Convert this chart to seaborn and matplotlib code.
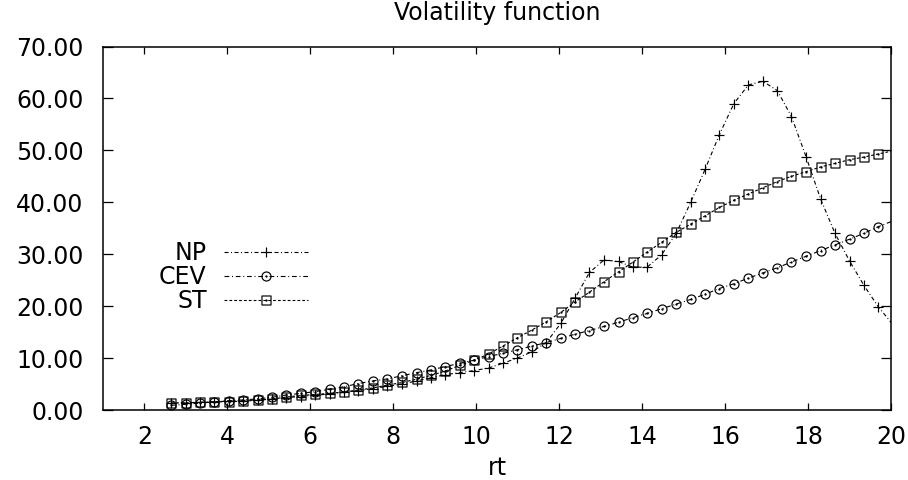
import matplotlib
matplotlib.use("Agg")
import matplotlib.pyplot as plt
from matplotlib.path import Path
import seaborn as sns

# rt grid (last point lies just past the axis, only its line segment shows)
rt = [2.64, 2.99, 3.34, 3.68, 4.03, 4.38, 4.73, 5.08, 5.42, 5.77,
      6.12, 6.47, 6.82, 7.16, 7.51, 7.86, 8.21, 8.56, 8.90, 9.25,
      9.60, 9.95, 10.30, 10.64, 10.99, 11.34, 11.69, 12.04, 12.38, 12.73,
      13.08, 13.43, 13.78, 14.12, 14.47, 14.82, 15.17, 15.52, 15.86, 16.21,
      16.56, 16.91, 17.26, 17.60, 17.95, 18.30, 18.65, 19.00, 19.34, 19.69,
      20.04]

np_vol = [1.3, 1.4, 1.5, 1.6, 1.7, 1.8, 1.95, 2.1, 2.4, 2.6,
          2.85, 3.1, 3.4, 3.75, 4.1, 4.6, 5.0, 5.6, 6.2, 6.8,
          7.2, 7.6, 8.1, 9.0, 10.0, 11.2, 13.0, 16.7, 21.5, 26.5,
          28.9, 28.6, 27.5, 27.5, 29.9, 34.0, 40.0, 46.4, 53.0, 59.0,
          62.6, 63.3, 61.5, 56.5, 48.8, 40.7, 34.0, 28.7, 24.1, 19.9,
          16.5]

cev_vol = [0.9, 1.1, 1.35, 1.55, 1.8, 1.95, 2.15, 2.45, 2.9, 3.2,
           3.55, 4.0, 4.5, 5.1, 5.6, 6.0, 6.6, 7.2, 7.7, 8.35,
           9.0, 9.6, 10.3, 10.9, 11.6, 12.3, 13.0, 13.8, 14.6, 15.3,
           16.1, 16.9, 17.8, 18.6, 19.5, 20.4, 21.3, 22.3, 23.4, 24.3,
           25.4, 26.4, 27.4, 28.5, 29.6, 30.7, 31.8, 32.9, 34.0, 35.3,
           36.4]

st_vol = [1.35, 1.4, 1.45, 1.55, 1.6, 1.7, 1.9, 2.1, 2.5, 2.8,
          3.0, 3.2, 3.5, 3.85, 4.25, 4.8, 5.3, 5.95, 6.65, 7.5,
          8.6, 9.6, 10.8, 12.3, 13.9, 15.4, 17.0, 18.8, 20.8, 22.7,
          24.7, 26.6, 28.5, 30.4, 32.3, 34.2, 35.8, 37.4, 39.0, 40.4,
          41.6, 42.8, 44.0, 45.0, 45.9, 46.8, 47.5, 48.2, 48.7, 49.3,
          49.9]

labels = ["NP", "CEV", "ST"]
x_ticks = [2, 4, 6, 8, 10, 12, 14, 16, 18, 20]
y_ticks = [0, 10, 20, 30, 40, 50, 60, 70]

sns.set_style("ticks")
plt.rcParams["font.family"] = ["DejaVu Sans"]
plt.rcParams["lines.scale_dashes"] = False
plt.rcParams["text.color"] = "black"
plt.rcParams["axes.labelcolor"] = "black"
plt.rcParams["xtick.color"] = "black"
plt.rcParams["ytick.color"] = "black"
plt.rcParams["axes.edgecolor"] = "black"

# gnuplot-like markers: open shape with a small dot in the middle
dot = Path.circle((0, 0), 0.12)
circ_dot = Path.make_compound_path(Path.circle((0, 0), 1.0), dot)
sq_dot = Path.make_compound_path(
    Path([(-1, -1), (1, -1), (1, 1), (-1, 1), (-1, -1)], closed=True), dot)

fig = plt.figure(figsize=(9.08, 4.8), dpi=100)
ax = fig.add_axes([0.1134, 0.1458, 0.8679, 0.7573])

fs = 17
common = dict(color="black", lw=0.8, markevery=slice(0, 50),
              markeredgecolor="black", markeredgewidth=0.85, ax=ax)

sns.lineplot(x=rt, y=np_vol, label=labels[0], linestyle=(0, (2.9, 1.8, 0.7, 1.8)),
             marker="+", markersize=7, **common)
sns.lineplot(x=rt, y=cev_vol, label=labels[1], linestyle=(0, (3.4, 2.0, 0.7, 2.0)),
             marker=circ_dot, markersize=6.5, mfc="none", **common)
sns.lineplot(x=rt, y=st_vol, label=labels[2], linestyle=(0, (2.0, 1.5)),
             marker=sq_dot, markersize=6.5, mfc="none", **common)

ax.set_xlim(1, 20)
ax.set_ylim(0, 70)
ax.set_xticks(x_ticks)
ax.set_yticks(y_ticks)
ax.set_yticklabels([f"{v:.2f}" for v in y_ticks])
for s in ax.spines.values():
    s.set_linewidth(1.1)
    s.set_visible(True)
ax.tick_params(direction="in", top=True, right=True, labelsize=fs, width=0.9)
ax.tick_params(axis="x", length=5, pad=11)
ax.tick_params(axis="y", length=7, pad=14)

ax.set_xlabel("rt", fontsize=fs, labelpad=5)
ax.set_ylabel("")
fig.text(0.5474, 1 - 13 / 480, "Volatility function", fontsize=fs,
         ha="center", va="center")

ax.legend(loc="upper right", bbox_to_anchor=(320 / 908, 1 - 229 / 480),
          bbox_transform=fig.transFigure, frameon=False, markerfirst=False,
          fontsize=fs, handlelength=3.55, handletextpad=0.75, labelspacing=0.0,
          borderpad=0, numpoints=1)

fig.savefig("out.png", dpi=100, facecolor="white")
